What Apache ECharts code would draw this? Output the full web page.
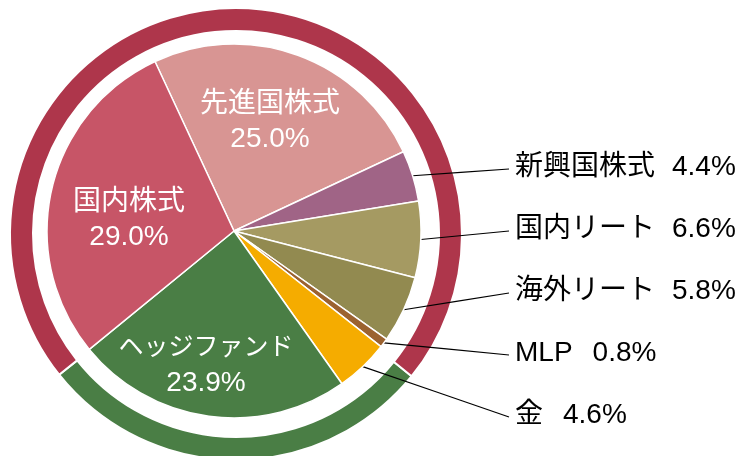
<!DOCTYPE html>
<html>
<head>
<meta charset="utf-8">
<script src="https://cdn.jsdelivr.net/npm/echarts@6/dist/echarts.min.js"></script>
<style>
  html, body { margin: 0; padding: 0; background: #fff; }
  #chart { width: 737px; height: 456px; }
</style>
</head>
<body>
<div id="chart"></div>
<script>
  // 資産配分
  var assetNames = ['先進国株式', '新興国株式', '国内リート', '海外リート', 'MLP', '金', 'ヘッジファンド', '国内株式'];
  var assetValues = [25.0, 4.4, 6.6, 5.8, 0.8, 4.6, 23.9, 29.0];
  var assetColors = ['#D89593', '#A06486', '#A59A62', '#928A50', '#9B6230', '#F5AC00', '#4A7E45', '#C75567'];

  // 外側のリング
  var ringNames = ['ヘッジ系', 'リスク資産'];
  var ringValues = [28.5, 71.6];
  var ringColors = ['#4A7E45', '#AE364B'];

  var insideNames = ['先進国株式', 'ヘッジファンド', '国内株式'];
  var insidePos = {
    '先進国株式': [270, 122],
    '国内株式': [129, 220],
    'ヘッジファンド': [206, 366]
  };

  var fontFamily = '"Liberation Sans", "Noto Sans CJK JP", sans-serif';
  var fontSize = 28;
  var chart = echarts.init(document.getElementById('chart'));

  var pieData = [];
  for (var i = 0; i < assetNames.length; i++) {
    var item = {
      name: assetNames[i],
      value: assetValues[i],
      itemStyle: { color: assetColors[i] }
    };
    if (insideNames.indexOf(assetNames[i]) >= 0) {
      item.label = { position: 'inside' };
      item.labelLine = { show: false };
    }
    pieData.push(item);
  }

  var outsideRow = 0;
  var rowY = {};
  for (var k = 0; k < assetNames.length; k++) {
    if (insideNames.indexOf(assetNames[k]) < 0) {
      rowY[assetNames[k]] = 167 + outsideRow * 62;
      outsideRow++;
    }
  }

  var option = {
    animation: false,
    series: [
      {
        type: 'pie',
        silent: true,
        z: 1,
        center: [236, 234],
        radius: [203, 226],
        startAngle: -39,
        label: { show: false },
        labelLine: { show: false },
        itemStyle: { borderColor: '#fff', borderWidth: 2 },
        data: ringNames.map(function (n, idx) {
          return { name: n, value: ringValues[idx], itemStyle: { color: ringColors[idx] } };
        })
      },
      {
        type: 'pie',
        z: 5,
        center: [234, 231],
        radius: 187,
        startAngle: 115,
        avoidLabelOverlap: false,
        itemStyle: { borderColor: '#fff', borderWidth: 1.5 },
        label: {
          show: true,
          position: 'outside',
          fontFamily: fontFamily,
          fontSize: fontSize,
          color: '#000',
          formatter: function (p) {
            var v = p.value.toFixed(1) + '%';
            if (insideNames.indexOf(p.name) >= 0) {
              var st = p.name === 'ヘッジファンド' ? 'k' : 'n';
              return '{' + st + '|' + p.name + '}\n{n|' + v + '}';
            }
            return (p.name.length >= 5 ? '{a|' : '{b|') + p.name + '}{v|' + v + '}';
          },
          rich: {
            n: { color: '#fff', fontSize: fontSize, fontFamily: fontFamily, lineHeight: 35, align: 'center' },
            k: { color: '#fff', fontSize: 25, fontFamily: fontFamily, lineHeight: 35, align: 'center' },
            a: { color: '#000', fontSize: fontSize, fontFamily: fontFamily, width: 157 },
            b: { color: '#000', fontSize: fontSize, fontFamily: fontFamily, padding: [0, 20, 0, 0] },
            v: { color: '#000', fontSize: fontSize, fontFamily: fontFamily }
          }
        },
        labelLine: {
          show: true,
          lineStyle: { color: '#000', width: 1.2 }
        },
        labelLayout: function (params) {
          var name = assetNames[params.dataIndex];
          if (insidePos[name]) {
            return {
              x: insidePos[name][0],
              y: insidePos[name][1],
              align: 'center',
              verticalAlign: 'middle'
            };
          }
          var y = rowY[name];
          var p0 = params.labelLinePoints[0];
          var end = [509, y + 2];
          return {
            x: 515,
            y: y,
            align: 'left',
            verticalAlign: 'middle',
            labelLinePoints: [p0, [(p0[0] + end[0]) / 2, (p0[1] + end[1]) / 2], end]
          };
        },
        data: pieData
      }
    ]
  };

  chart.setOption(option);
</script>
</body>
</html>
